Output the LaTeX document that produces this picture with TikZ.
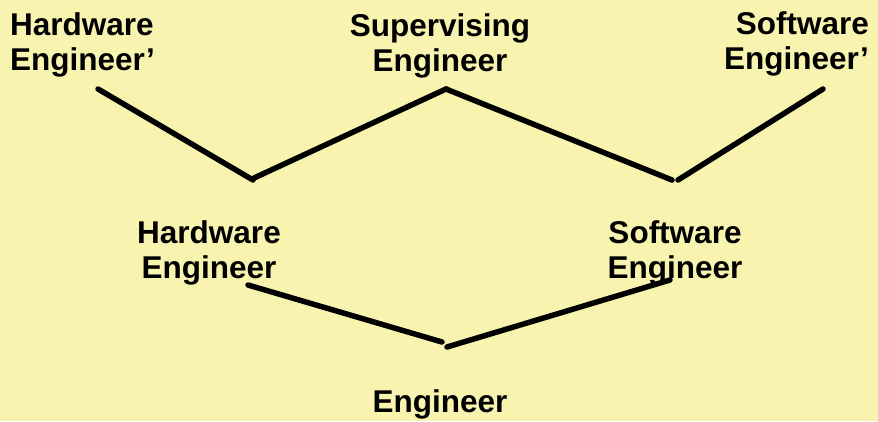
\documentclass[tikz,border=0pt]{standalone}
\usepackage{fontspec}
\setmainfont{Liberation Sans}
\definecolor{paper}{RGB}{248,244,176}
\begin{document}
\begin{tikzpicture}[x=1pt,y=-1pt,
    role/.style={inner sep=0pt, font=\fontsize{31.5}{35}\selectfont\bfseries},
    link/.style={line width=5.5pt, line cap=round, draw=black}]
  \fill[paper] (0,0) rectangle (878,421);
  \useasboundingbox (0,0) rectangle (878,421);

  % role labels (positioned by the baseline of their last line)
  \node[role, align=left,   anchor=base west] (hwp) at (10,70)  {Hardware\\Engineer’};
  \node[role, align=center, anchor=base]      (sup) at (440,71) {Supervising\\Engineer};
  \node[role, align=right,  anchor=base east] (swp) at (869,69) {Software\\Engineer’};
  \node[role, align=center, anchor=base]      (hw)  at (209,278) {Hardware\\Engineer};
  \node[role, align=center, anchor=base]      (sw)  at (675,278) {Software\\Engineer};
  \node[role, align=center, anchor=base]      (eng) at (440,412) {Engineer};

  % line end points
  \coordinate (hwp-foot) at (98,89);
  \coordinate (hw-top-l) at (253,180);
  \coordinate (hw-top-r) at (254,178);
  \coordinate (sup-foot) at (446,89);
  \coordinate (sw-top-l) at (672,180);
  \coordinate (sw-top-r) at (678,180);
  \coordinate (swp-foot) at (823,89);
  \coordinate (hw-foot)  at (248,285);
  \coordinate (eng-top-l) at (442,342);
  \coordinate (eng-top-r) at (447,347);
  \coordinate (sw-foot)  at (670,280);

  % specialisation links
  \draw[link] (hwp-foot) -- (hw-top-l);
  \draw[link] (hw-top-r) -- (sup-foot);
  \draw[link] (sup-foot) -- (sw-top-l);
  \draw[link] (sw-top-r) -- (swp-foot);
  \draw[link] (hw-foot) -- (eng-top-l);
  \draw[link] (eng-top-r) -- (sw-foot);
\end{tikzpicture}
\end{document}
